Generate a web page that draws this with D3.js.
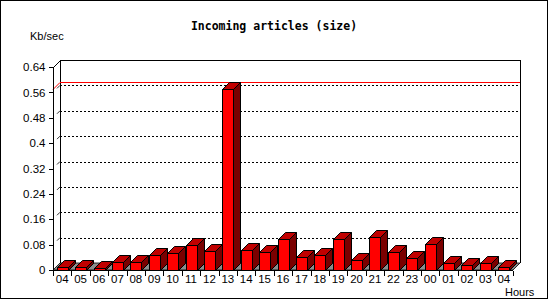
<!DOCTYPE html>
<html>
<head>
<meta charset="utf-8">
<script src="https://cdn.jsdelivr.net/npm/d3@7"></script>
<style>
  body { margin: 0; background: #fff; }
  svg text { font-family: "Liberation Sans", Arial, sans-serif; font-size: 11px; fill: #000; }
</style>
</head>
<body>
<div id="chart"></div>
<script>
// Incoming articles (size), hourly bars, 3D look

const hours = ["04","05","06","07","08","09","10","11","12","13","14","15","16","17","18","19","20","21","22","23","00","01","02","03","04"]
const kbPerSec = [0.008,0.008,0.005,0.024,0.024,0.046,0.053,0.078,0.059,0.57,0.063,0.056,0.097,0.040,0.046,0.097,0.031,0.103,0.056,0.037,0.081,0.021,0.015,0.021,0.008]
const yTicks = [0,0.08,0.16,0.24,0.32,0.4,0.48,0.56,0.64]
const yTickLabels = ["0","0.08","0.16","0.24","0.32","0.4","0.48","0.56","0.64"]

const width = 550
const height = 300
const depth = 7
const plotLeft = 53, plotRight = 513, plotBottom = 270, plotTop = 67

const svg = d3.select("#chart").append("svg")
  .attr("width", width)
  .attr("height", height)

// frame
svg.append("rect")
  .attr("x", 0.5).attr("y", 0.5)
  .attr("width", 547).attr("height", 298)
  .attr("fill", "#fff").attr("stroke", "#000")

const x = d3.scaleBand()
  .domain(d3.range(hours.length))
  .range([plotLeft, plotRight])

const xEdge = d3.scaleLinear()
  .domain([0, hours.length])
  .range([plotLeft, plotRight])

const y = d3.scaleLinear()
  .domain([0, 0.64])
  .range([plotBottom, plotTop])

// back wall lines
const back = svg.append("g").attr("shape-rendering", "crispEdges")
back.append("path")
  .attr("d", `M${plotLeft + depth + 0.5},${plotBottom - depth}V${plotTop - depth + 0.5}H${plotRight + depth + 0.5}V${plotBottom - depth}`)
  .attr("fill", "none").attr("stroke", "#000")
svg.append("line")
  .attr("x1", plotLeft + 0.5).attr("y1", plotTop + 0.5)
  .attr("x2", plotLeft + depth + 0.5).attr("y2", plotTop - depth + 0.5)
  .attr("stroke", "#000")

// dotted grid on back wall
yTicks.slice(1, -1).forEach(v => {
  const yy = Math.round(y(v)) - depth + 0.5
  back.append("line")
    .attr("x1", plotLeft + depth).attr("x2", plotRight + depth)
    .attr("y1", yy).attr("y2", yy)
    .attr("stroke", "#000").attr("stroke-dasharray", "2,2")
  svg.append("line")
    .attr("x1", plotLeft + 4).attr("y1", y(v) - 4)
    .attr("x2", plotLeft + depth).attr("y2", y(v) - depth)
    .attr("stroke", "#000").attr("stroke-width", 0.8)
})

// max line
const maxVal = d3.max(kbPerSec)
const ym = Math.round(y(maxVal)) - depth + 0.5
svg.append("line")
  .attr("x1", plotLeft + depth).attr("x2", plotRight + depth)
  .attr("y1", ym).attr("y2", ym)
  .attr("stroke", "#ff0000").attr("shape-rendering", "crispEdges")
svg.append("line")
  .attr("x1", plotLeft).attr("y1", ym + depth)
  .attr("x2", plotLeft + depth).attr("y2", ym)
  .attr("stroke", "#ff0000")

// floor
svg.append("path")
  .attr("d", `M${plotLeft},${plotBottom}L${plotLeft + depth},${plotBottom - depth}L${plotRight + depth},${plotBottom - depth}L${plotRight},${plotBottom}Z`)
  .attr("fill", "#8c8c8c").attr("stroke", "#000").attr("stroke-width", 0.8)

// bars
const barW = 11
const bars = svg.append("g").attr("stroke", "#000").attr("stroke-linejoin", "miter")
kbPerSec.forEach((v, i) => {
  const x0 = Math.round(x(i) + x.bandwidth() / 2 - barW / 2) + 0.5
  const x1 = x0 + barW
  const yv = Math.round(y(v)) + 0.5
  const yb = plotBottom + 0.5
  bars.append("path")
    .attr("d", `M${x1},${yv}L${x1 + depth},${yv - depth}L${x1 + depth},${yb - depth}L${x1},${yb}Z`)
    .attr("fill", "#7a0000")
  bars.append("path")
    .attr("d", `M${x0},${yv}L${x0 + depth},${yv - depth}L${x1 + depth},${yv - depth}L${x1},${yv}Z`)
    .attr("fill", "#c00000")
  bars.append("rect")
    .attr("x", x0).attr("y", yv)
    .attr("width", barW).attr("height", yb - yv)
    .attr("fill", "#ff0000")
})

// y axis
const yAxis = d3.axisLeft(y)
  .tickValues(yTicks)
  .tickFormat((d, i) => yTickLabels[i])
  .tickSize(5)
  .tickPadding(3)
const gy = svg.append("g")
  .attr("transform", `translate(${plotLeft + 0.5},0)`)
  .attr("shape-rendering", "crispEdges")
  .call(yAxis)
gy.select(".domain").attr("d", `M0,${plotTop}V${plotBottom + 0.5}`)
gy.selectAll("text").style("font-family", "Liberation Sans").style("font-size", "11.5px")

// x axis: ticks on category edges, labels centred
const gx = svg.append("g")
  .attr("transform", `translate(0,${plotBottom + 0.5})`)
  .attr("shape-rendering", "crispEdges")
  .call(d3.axisBottom(xEdge).ticks(hours.length).tickFormat("").tickSize(5))
gx.select(".domain").attr("d", `M${plotLeft},0H${plotRight}`)
svg.append("g")
  .attr("transform", `translate(0,${plotBottom})`)
  .call(d3.axisBottom(x).tickSize(0).tickPadding(5).tickFormat(i => hours[i]))
  .call(g => g.select(".domain").remove())
  .selectAll("text").style("font-family", "Liberation Sans").style("font-size", "11.5px")

// titles
svg.append("text")
  .attr("x", 274).attr("y", 30)
  .attr("text-anchor", "middle")
  .style("font-family", "DejaVu Sans Mono")
  .style("font-weight", "bold")
  .style("font-size", "11.5px")
  .text("Incoming articles (size)")

svg.append("text")
  .attr("x", 30).attr("y", 40)
  .text("Kb/sec")

svg.append("text")
  .attr("x", 505).attr("y", 296)
  .text("Hours")
</script>
</body>
</html>
